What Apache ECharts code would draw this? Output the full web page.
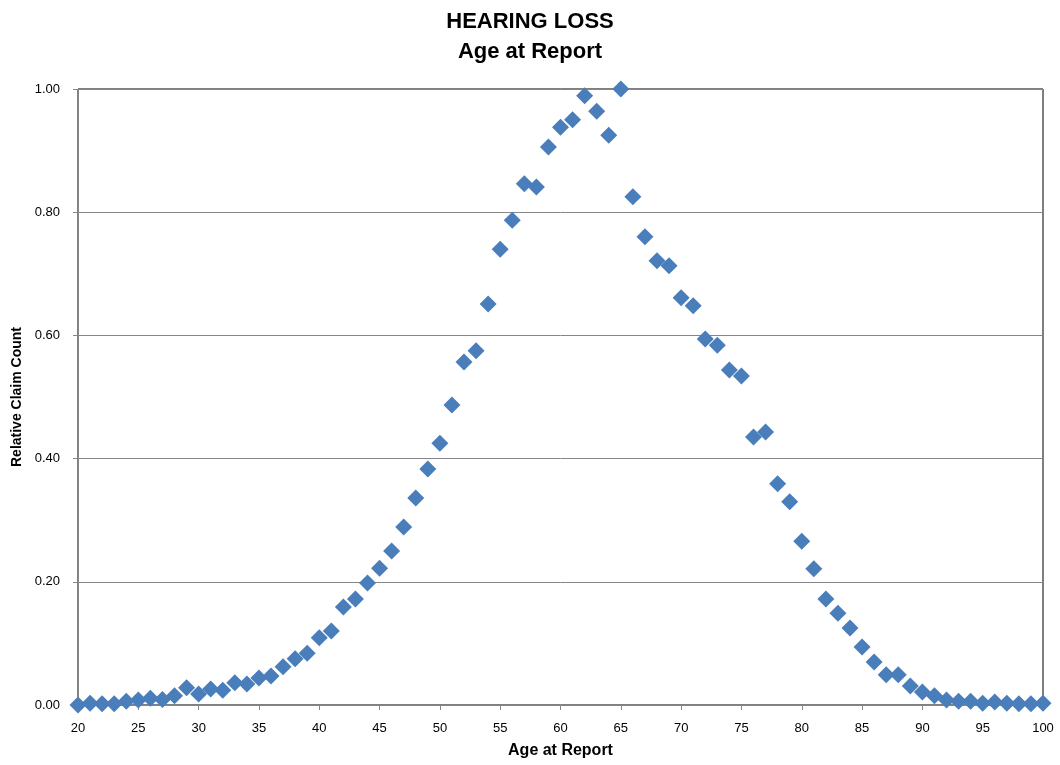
<!DOCTYPE html>
<html>
<head>
<meta charset="utf-8">
<script src="https://cdn.jsdelivr.net/npm/echarts@6/dist/echarts.min.js"></script>
<style>
  html, body { margin: 0; padding: 0; background: #ffffff; }
  #chart { width: 1060px; height: 765px; }
</style>
</head>
<body>
<div id="chart"></div>
<script>
// Age at report (years) and the relative claim count for each age
const ages = [
  20, 21, 22, 23, 24, 25, 26, 27, 28, 29,
  30, 31, 32, 33, 34, 35, 36, 37, 38, 39,
  40, 41, 42, 43, 44, 45, 46, 47, 48, 49,
  50, 51, 52, 53, 54, 55, 56, 57, 58, 59,
  60, 61, 62, 63, 64, 65, 66, 67, 68, 69,
  70, 71, 72, 73, 74, 75, 76, 77, 78, 79,
  80, 81, 82, 83, 84, 85, 86, 87, 88, 89,
  90, 91, 92, 93, 94, 95, 96, 97, 98, 99, 100
];
const relativeClaims = [
  0.000, 0.003, 0.002, 0.002, 0.006, 0.008, 0.011, 0.009, 0.015, 0.028,
  0.018, 0.026, 0.024, 0.036, 0.034, 0.044, 0.047, 0.062, 0.075, 0.084,
  0.109, 0.120, 0.159, 0.172, 0.198, 0.222, 0.250, 0.289, 0.336, 0.383,
  0.425, 0.487, 0.557, 0.575, 0.651, 0.740, 0.787, 0.846, 0.841, 0.906,
  0.938, 0.950, 0.989, 0.964, 0.925, 1.000, 0.825, 0.760, 0.721, 0.713,
  0.661, 0.648, 0.594, 0.584, 0.544, 0.534, 0.435, 0.443, 0.359, 0.330,
  0.266, 0.221, 0.172, 0.149, 0.125, 0.094, 0.070, 0.049, 0.049, 0.031,
  0.021, 0.015, 0.008, 0.006, 0.006, 0.003, 0.005, 0.003, 0.002, 0.002, 0.003
];

const titleLines = ['HEARING LOSS', 'Age at Report'];
const xAxisName = 'Age at Report';
const yAxisName = 'Relative Claim Count';

const points = ages.map((a, i) => [a, relativeClaims[i]]);
const FONT = '"Liberation Sans Narrow", "Liberation Sans", Arial, sans-serif';

const chart = echarts.init(document.getElementById('chart'), null, { renderer: 'canvas' });
chart.setOption({
  backgroundColor: '#ffffff',
  animation: false,
  title: {
    text: titleLines.join('\n'),
    left: 'center',
    top: 2,
    textStyle: {
      fontFamily: FONT,
      fontSize: 22,
      fontWeight: 'bold',
      color: '#000000',
      lineHeight: 30
    }
  },
  grid: {
    left: 78,
    right: 17,
    top: 89,
    bottom: 60,
    show: true,
    borderColor: '#000000',
    borderWidth: 1,
    backgroundColor: '#ffffff'
  },
  xAxis: {
    type: 'value',
    min: 20,
    max: 100,
    interval: 5,
    name: xAxisName,
    nameLocation: 'middle',
    nameGap: 38,
    nameTextStyle: { fontFamily: FONT, fontSize: 16, fontWeight: 'bold', color: '#000000' },
    axisLine: { show: true, lineStyle: { color: '#868686', width: 1 } },
    axisTick: { show: true, inside: false, length: 5, lineStyle: { color: '#868686' } },
    axisLabel: { fontFamily: FONT, fontSize: 13, color: '#000000', margin: 17 },
    splitLine: { show: false }
  },
  yAxis: {
    type: 'value',
    min: 0,
    max: 1,
    interval: 0.2,
    name: yAxisName,
    nameLocation: 'middle',
    nameGap: 54,
    nameTextStyle: { fontFamily: FONT, fontSize: 14, fontWeight: 'bold', color: '#000000' },
    axisLine: { show: true, lineStyle: { color: '#868686', width: 1 } },
    axisTick: { show: true, inside: false, length: 5, lineStyle: { color: '#868686' } },
    axisLabel: {
      fontFamily: FONT, fontSize: 13, color: '#000000', margin: 18,
      formatter: v => v.toFixed(2)
    },
    splitLine: { show: true, lineStyle: { color: '#868686', width: 1 } }
  },
  series: [{
    type: 'scatter',
    data: points,
    symbol: 'diamond',
    symbolSize: 17,
    clip: false,
    itemStyle: { color: '#4A7EBB', opacity: 1 },
    z: 5
  }]
});
</script>
</body>
</html>
